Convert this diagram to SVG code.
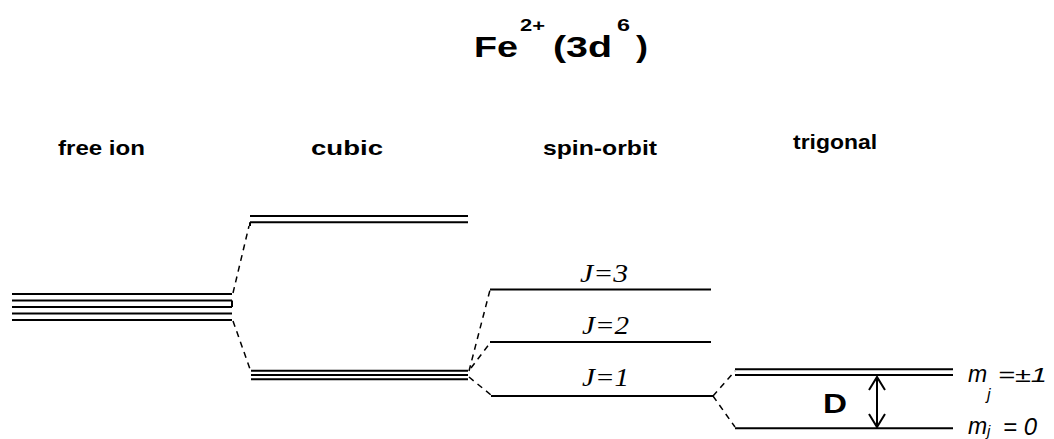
<svg xmlns="http://www.w3.org/2000/svg" width="1054" height="439" viewBox="0 0 1054 439">
<style>
.lv{stroke:#000;stroke-width:2;fill:none}
.dash{stroke:#000;stroke-width:1.5;fill:none;stroke-dasharray:6 5}
.hd{font-family:"Liberation Sans",Arial,sans-serif;font-weight:bold;fill:#000}
.jl{font-family:"Liberation Serif","Times New Roman",serif;font-style:italic;fill:#000;font-size:25px}
.ml{font-family:"Liberation Sans",Arial,sans-serif;font-style:italic;fill:#000}
</style>
<rect width="1054" height="439" fill="#fff"/>
<g id="title">
<text class="hd" x="474" y="57" font-size="29" textLength="44" lengthAdjust="spacingAndGlyphs">Fe</text>
<text class="hd" x="520" y="31" font-size="17" textLength="25" lengthAdjust="spacingAndGlyphs">2+</text>
<text class="hd" x="553" y="57" font-size="29" textLength="59" lengthAdjust="spacingAndGlyphs">(3d</text>
<text class="hd" x="617" y="31" font-size="17" textLength="13" lengthAdjust="spacingAndGlyphs">6</text>
<text class="hd" x="636" y="57" font-size="29" textLength="12" lengthAdjust="spacingAndGlyphs">)</text>
</g>
<g id="headers">
<text class="hd" x="58" y="155" font-size="21" textLength="87" lengthAdjust="spacingAndGlyphs">free ion</text>
<text class="hd" x="311" y="155" font-size="21" textLength="72" lengthAdjust="spacingAndGlyphs">cubic</text>
<text class="hd" x="543" y="155" font-size="21" textLength="114" lengthAdjust="spacingAndGlyphs">spin-orbit</text>
<text class="hd" x="793" y="149" font-size="21" textLength="84" lengthAdjust="spacingAndGlyphs">trigonal</text>
</g>
<g id="free-ion">
<path class="lv" d="M12 294H232M12 300.5H232M12 307H232M12 313.5H232M12 320H232M232 300.5V307"/>
</g>
<g id="cubic-upper">
<path class="lv" d="M250 216H468M250 222.3H468M250 222.3V226"/>
</g>
<g id="cubic-lower">
<path class="lv" d="M251 370.7H468M251 375H468M251 379.3H468"/>
</g>
<g id="J3">
<path class="lv" d="M490 289.5H711"/>
<text class="jl" x="580" y="282" textLength="48" lengthAdjust="spacingAndGlyphs">J=3</text>
</g>
<g id="J2">
<path class="lv" d="M490 342H711"/>
<text class="jl" x="582" y="334" textLength="47" lengthAdjust="spacingAndGlyphs">J=2</text>
</g>
<g id="J1">
<path class="lv" d="M491 396H713"/>
<text class="jl" x="582" y="386" textLength="47" lengthAdjust="spacingAndGlyphs">J=1</text>
</g>
<g id="trig-upper">
<path class="lv" d="M735 369.3H953M735 375H953"/>
<text class="ml" x="968" y="382" font-size="23">m</text>
<text class="ml" x="987" y="400" font-size="16">j</text>
<text class="ml" x="998" y="382" font-size="20" textLength="49" lengthAdjust="spacingAndGlyphs">=±1</text>
</g>
<g id="trig-lower">
<path class="lv" d="M735 428.3H953"/>
<text class="ml" x="968" y="434" font-size="23">m</text>
<text class="ml" x="987" y="436" font-size="15">j</text>
<text class="ml" x="1003" y="435" font-size="23" textLength="34" lengthAdjust="spacingAndGlyphs">= 0</text>
</g>
<g id="gap-D">
<path class="lv" d="M877 377V427M869 390L877 377L885 390M869 414L877 427L885 414"/>
<text class="hd" x="823" y="413" font-size="28" textLength="24" lengthAdjust="spacingAndGlyphs">D</text>
</g>
<g id="connectors">
<path class="dash" d="M233 293L249 226"/>
<path class="dash" d="M233 321L250 369"/>
<path class="dash" d="M469 371L490 290"/>
<path class="dash" d="M471 368L490 343"/>
<path class="dash" d="M469 377L491 395"/>
<path class="dash" d="M713 396L735 371"/>
<path class="dash" d="M713 396L735 427"/>
</g>
</svg>
